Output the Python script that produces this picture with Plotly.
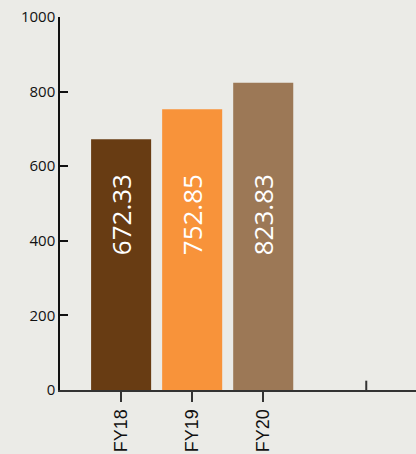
import plotly.graph_objects as go

categories = ["FY18", "FY19", "FY20"]
values = [672.33, 752.85, 823.83]
value_labels = ["672.33", "752.85", "823.83"]
colors = ["#683C13", "#F8933A", "#9C7856"]
y_ticks = [0, 200, 400, 600, 800, 1000]

label_y = 469  # fixed height of in-bar labels (data units)

fig = go.Figure()
fig.add_trace(go.Bar(
    x=categories, y=values,
    marker=dict(color=colors, line=dict(width=0)),
    width=0.845,
    hoverinfo="skip",
))

for c, lab in zip(categories, value_labels):
    fig.add_annotation(
        x=c, y=label_y, text=lab, textangle=-90, showarrow=False,
        font=dict(family="Open Sans", size=26, color="white"),
        xanchor="center", yanchor="middle",
    )

# extra inside tick on the x axis at the right
fig.add_shape(type="line", xref="x", yref="y", x0=3.45, x1=3.45, y0=0, y1=25,
              line=dict(color="#333333", width=2))

bg = "#EBEBE7"
fig.update_layout(
    width=416, height=454,
    margin=dict(l=60, r=0, t=17, b=64, pad=0),
    paper_bgcolor=bg, plot_bgcolor=bg,
    showlegend=False,
    xaxis=dict(
        type="category", range=[-0.86, 4.15], automargin=False,
        showline=True, linecolor="#333333", linewidth=2,
        ticks="outside", ticklen=10, tickwidth=2, tickcolor="#333333",
        tickangle=-90, showgrid=False, zeroline=False,
        tickfont=dict(family="Liberation Sans", size=18, color="#111111"),
    ),
    yaxis=dict(
        range=[0, 1000], tickvals=y_ticks, automargin=False,
        showline=True, linecolor="#111111", linewidth=1.5,
        ticks="inside", ticklen=8, tickwidth=1.5, tickcolor="#111111",
        showgrid=False, zeroline=False,
        tickfont=dict(family="Open Sans", size=15, color="#111111"),
    ),
)

fig.write_html("out.html", config={"displayModeBar": False},
               post_script="document.body.style.margin='0';document.body.style.overflow='hidden';")
